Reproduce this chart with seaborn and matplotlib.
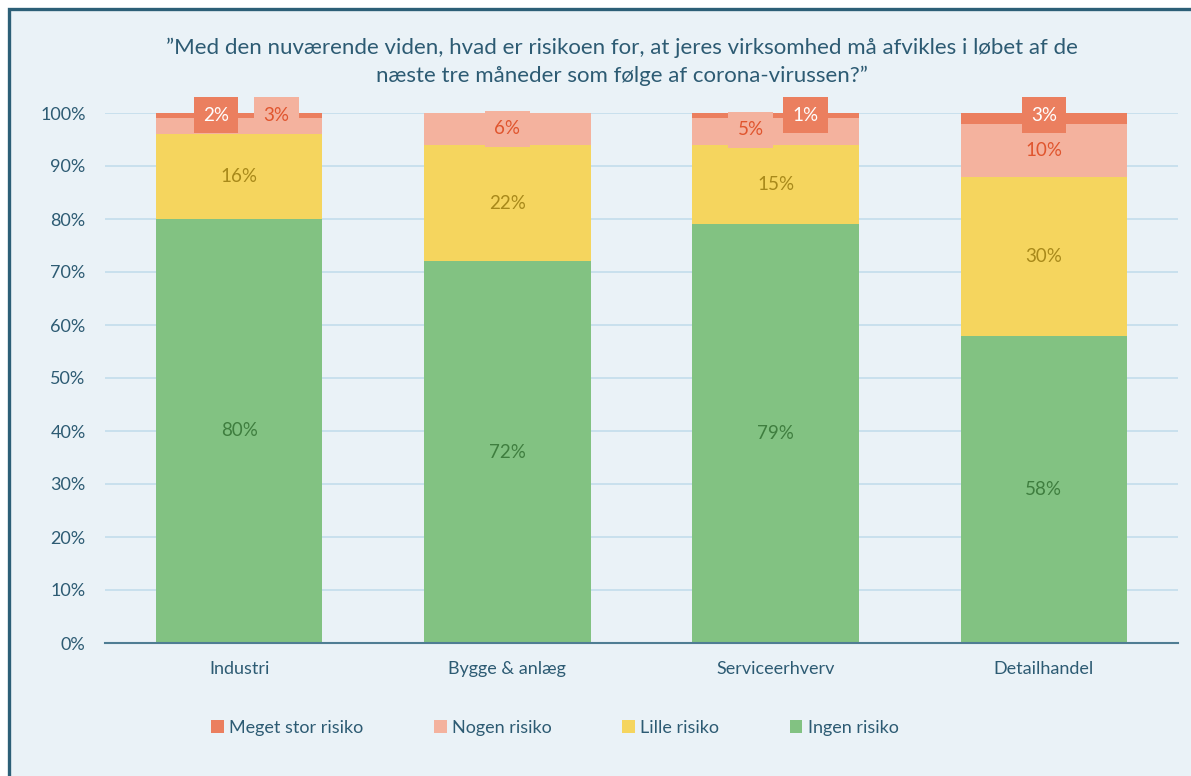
import numpy as np
import pandas as pd
import matplotlib.pyplot as plt
import seaborn as sns
from matplotlib.patches import Rectangle, Patch

# data
sectors = ["Industri", "Bygge & anlæg", "Serviceerhverv", "Detailhandel"]
ingen = [80, 72, 79, 58]
lille = [16, 22, 15, 30]
nogen = [3, 6, 5, 10]
meget = [2, 0, 1, 3]

series = ["Meget stor risiko", "Nogen risiko", "Lille risiko", "Ingen risiko"]
colors = {"Meget stor risiko": "#EB7F5F", "Nogen risiko": "#F4B29E",
          "Lille risiko": "#F5D55E", "Ingen risiko": "#82C282"}
text_colors = {"Meget stor risiko": "white", "Nogen risiko": "#E0552E",
               "Lille risiko": "#A8891A", "Ingen risiko": "#3F7E3F"}

title = ("\u201dMed den nuværende viden, hvad er risikoen for, at jeres virksomhed må afvikles i løbet af de\n"
         "næste tre måneder som følge af corona-virussen?\u201d")

df = pd.DataFrame({"sector": sectors, "Ingen risiko": ingen, "Lille risiko": lille,
                   "Nogen risiko": nogen, "Meget stor risiko": meget})

sns.set_theme(style="white")
plt.rcParams['font.family'] = ['Lato', 'DejaVu Sans']
txt = "#2D5B73"
bg = "#EAF2F7"

fig = plt.figure(figsize=(11.91, 7.76), dpi=100, facecolor="white")
fig.patches.append(Rectangle((9 / 1191, -0.1), 1.2, 1.1 - 9 / 776, transform=fig.transFigure,
                             facecolor=bg, edgecolor="#2C5F77", lw=2.4, zorder=-10))
ax = fig.add_axes([105 / 1191, 1 - 643 / 776, 1073 / 1191, 530 / 776])
ax.set_facecolor(bg)
ax.patch.set_alpha(0)

# stacked bars: draw cumulative totals back to front
order = ["Ingen risiko", "Lille risiko", "Nogen risiko", "Meget stor risiko"]
cum = df[order].cumsum(axis=1)
for i, s in enumerate(reversed(order)):
    sns.barplot(x=df["sector"], y=cum[s], color=colors[s], width=0.62,
                saturation=1, linewidth=0, edgecolor="none", ax=ax, zorder=2 + i)

ax.set_ylim(0, 100)
ax.set_xlim(-0.5, 3.5)
ax.set_yticks(np.arange(0, 101, 10))
ax.set_yticklabels([f"{v}%" for v in range(0, 101, 10)])
ax.yaxis.grid(True, color="#C3DDEC", lw=1.2, zorder=0)
ax.set_axisbelow(True)
for sp in ["top", "right", "left"]:
    ax.spines[sp].set_visible(False)
ax.spines["bottom"].set_color("#4F7D93")
ax.spines["bottom"].set_linewidth(1.5)
ax.spines["bottom"].set_zorder(20)
ax.tick_params(axis="y", length=0, pad=14, labelsize=13, labelcolor=txt)
ax.tick_params(axis="x", length=0, pad=13, labelsize=13, labelcolor=txt)
ax.set_xlabel("")
ax.set_ylabel("")

# special placement for the thin top segments (dx, y)
special = {(0, "Meget stor risiko"): (-0.086, 99.6), (0, "Nogen risiko"): (0.14, 99.6),
           (1, "Nogen risiko"): (0, 97.0),
           (2, "Meget stor risiko"): (0.112, 99.6), (2, "Nogen risiko"): (-0.093, 96.8),
           (3, "Meget stor risiko"): (0, 99.6)}

for i in range(len(sectors)):
    base = 0
    for s in order:
        v = df.loc[i, s]
        if v > 0:
            dx, y = special.get((i, s), (0, base + v / 2))
            kw = {}
            if (i, s) in special:
                kw["bbox"] = dict(boxstyle="square,pad=0.5", fc=colors[s], ec="none")
            ax.text(i + dx, y, f"{v}%", ha="center", va="center", fontsize=13.5,
                    color=text_colors[s], zorder=30, clip_on=False, **kw)
        base += v

fig.text(0.522, 1 - 62 / 776, title, ha="center", va="center", fontsize=16,
         color=txt, linespacing=1.45)

handles = [Patch(facecolor=colors[s], edgecolor="none") for s in series]
fig.legend(handles, series, loc="center", bbox_to_anchor=(0.466, 1 - 728 / 776), ncol=4,
           frameon=False, fontsize=13, labelcolor=txt, handlelength=0.7, handleheight=0.7,
           handletextpad=0.3, columnspacing=3.9)

fig.savefig("out.png", dpi=100, facecolor=fig.get_facecolor())
